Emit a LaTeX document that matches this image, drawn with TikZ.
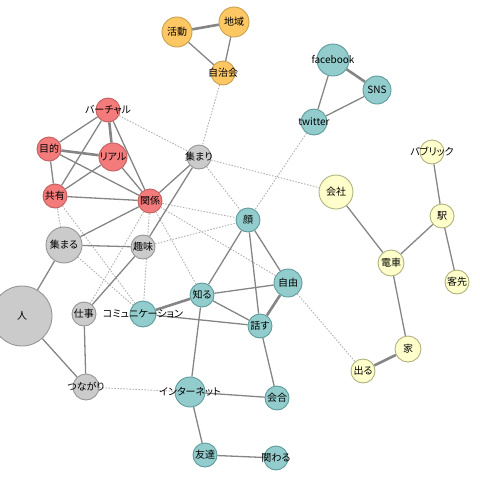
\documentclass[tikz,border=0pt]{standalone}
\usepackage{fontspec}
\setmainfont{Noto Sans CJK JP}[RawFeature=+palt]
\usetikzlibrary{backgrounds}
\definecolor{orF}{HTML}{FDC764}\definecolor{orD}{HTML}{C9A050}
\definecolor{rdF}{HTML}{F47B7B}\definecolor{rdD}{HTML}{C06060}
\definecolor{gyF}{HTML}{CBCBCB}\definecolor{gyD}{HTML}{969696}
\definecolor{tlF}{HTML}{93CCCC}\definecolor{tlD}{HTML}{5F9B9B}
\definecolor{ylF}{HTML}{FFFFCC}\definecolor{ylD}{HTML}{B0B080}
\definecolor{edge}{HTML}{858585}\definecolor{dotc}{HTML}{B0B0B0}
\tikzset{
 x=1pt,y=-1pt,
 vtx/.style={circle,draw,line width=0.9pt,inner sep=0pt,
   label={[font=\fontsize{10}{11}\selectfont,inner sep=0pt,text=black]center:#1}},
 org/.style={vtx=#1,fill=orF,draw=orD},
 red/.style={vtx=#1,fill=rdF,draw=rdD},
 gry/.style={vtx=#1,fill=gyF,draw=gyD},
 tel/.style={vtx=#1,fill=tlF,draw=tlD},
 yel/.style={vtx=#1,fill=ylF,draw=ylD},
 ln/.style={draw=edge,line width=1.3pt},
 tk/.style={draw=edge,line width=2.6pt},
 dt/.style={draw=dotc,line width=0.9pt,dash pattern=on 1.5pt off 1.5pt},
}
\begin{document}
\begin{tikzpicture}
\useasboundingbox (0,0) rectangle (480,480);
\node[org=活動,minimum size=30] (katsudo) at (177,32) {};
\node[org=地域,minimum size=30] (chiiki) at (234,22) {};
\node[org=自治会,minimum size=24] (jichi) at (223,73) {};
\node[tel=facebook,minimum size=32] (fb) at (333,60) {};
\node[tel=SNS,minimum size=28] (sns) at (377,90) {};
\node[tel=twitter,minimum size=26] (tw) at (314,122) {};
\node[red=バーチャル,minimum size=24] (virt) at (108,110) {};
\node[red=目的,minimum size=24] (mok) at (49,149) {};
\node[red=リアル,minimum size=28] (real) at (113,157) {};
\node[red=共有,minimum size=24] (kyo) at (55,196) {};
\node[red=関係,minimum size=24] (kan) at (150,201) {};
\node[gry=集まり,minimum size=24] (atsumari) at (199,157) {};
\node[tel=顔,minimum size=24] (kao) at (248,220) {};
\node[yel=会社,minimum size=34] (kaisha) at (336,192) {};
\node[yel=パブリック,minimum size=24] (pub) at (432,152) {};
\node[yel=駅,minimum size=24] (eki) at (442,216) {};
\node[yel=電車,minimum size=26] (densha) at (391,263) {};
\node[yel=客先,minimum size=24] (kyaku) at (457,282) {};
\node[gry=集まる,minimum size=36] (atsumaru) at (64,245) {};
\node[gry=趣味,minimum size=24] (shumi) at (143,247) {};
\node[gry=人,minimum size=60] (hito) at (22,316) {};
\node[gry=仕事,minimum size=24] (shigoto) at (84,314) {};
\node[tel=コミュニケーション,minimum size=26] (comm) at (143,314) {};
\node[tel=知る,minimum size=24] (shiru) at (202,295) {};
\node[tel=自由,minimum size=28] (jiyu) at (288,283) {};
\node[tel=話す,minimum size=24] (hanasu) at (260,326) {};
\node[yel=家,minimum size=26] (ie) at (408,349) {};
\node[yel=出る,minimum size=24] (deru) at (363,371) {};
\node[gry=つながり,minimum size=26] (tsunagari) at (86,387) {};
\node[tel=インターネット,minimum size=30] (inet) at (190,392) {};
\node[tel=会合,minimum size=24] (kaigo) at (277,398) {};
\node[tel=友達,minimum size=24] (tomo) at (205,455) {};
\node[tel=関わる,minimum size=24] (kakawaru) at (276,458) {};
\begin{scope}[on background layer]
% dotted
\draw[dt] (jichi)--(atsumari);
\draw[dt] (tw)--(kao);
\draw[dt] (virt)--(atsumari);
\draw[dt] (atsumari)--(kaisha);
\draw[dt] (atsumari)--(kao);
\draw[dt] (kan)--(kao);
\draw[dt] (kan)--(shiru);
\draw[dt] (kan)--(jiyu);
\draw[dt] (kan)--(shigoto);
\draw[dt] (kan)--(comm);
\draw[dt] (shumi)--(kao);
\draw[dt] (kyo)--(comm);
\draw[dt] (kyo)--(atsumaru);
\draw[dt] (atsumaru)--(comm);
\draw[dt] (jiyu)--(deru);
\draw[dt] (tsunagari)--(inet);
% solid
\draw[tk] (katsudo)--(chiiki);
\draw[ln] (katsudo)--(jichi);
\draw[ln] (chiiki)--(jichi);
\draw[tk] (fb)--(sns);
\draw[ln] (fb)--(tw);
\draw[ln] (sns)--(tw);
\draw[ln] (virt)--(mok);
\draw[tk] (virt)--(real);
\draw[ln] (virt)--(kyo);
\draw[ln] (virt)--(kan);
\draw[tk] (mok)--(real);
\draw[ln] (mok)--(kyo);
\draw[ln] (mok)--(kan);
\draw[ln] (real)--(kyo);
\draw[ln] (real)--(kan);
\draw[ln] (kyo)--(kan);
\draw[ln] (kan)--(atsumari);
\draw[ln] (kan)--(atsumaru);
\draw[ln] (atsumari)--(shumi);
\draw[ln] (atsumaru)--(shumi);
\draw[ln] (atsumaru)--(hito);
\draw[ln] (shumi)--(shigoto);
\draw[ln] (hito)--(tsunagari);
\draw[ln] (shigoto)--(tsunagari);
\draw[tk] (comm)--(shiru);
\draw[ln] (comm)--(hanasu);
\draw[ln] (shiru)--(kao);
\draw[ln] (shiru)--(jiyu);
\draw[ln] (shiru)--(hanasu);
\draw[ln] (shiru)--(inet);
\draw[ln] (kao)--(jiyu);
\draw[ln] (kao)--(hanasu);
\draw[tk] (jiyu)--(hanasu);
\draw[ln] (hanasu)--(kaigo);
\draw[ln] (inet)--(kaigo);
\draw[ln] (inet)--(tomo);
\draw[ln] (tomo)--(kakawaru);
\draw[ln] (kaisha)--(densha);
\draw[ln] (densha)--(eki);
\draw[ln] (eki)--(pub);
\draw[ln] (eki)--(kyaku);
\draw[ln] (densha)--(ie);
\draw[tk] (ie)--(deru);
\end{scope}
\end{tikzpicture}
\end{document}
